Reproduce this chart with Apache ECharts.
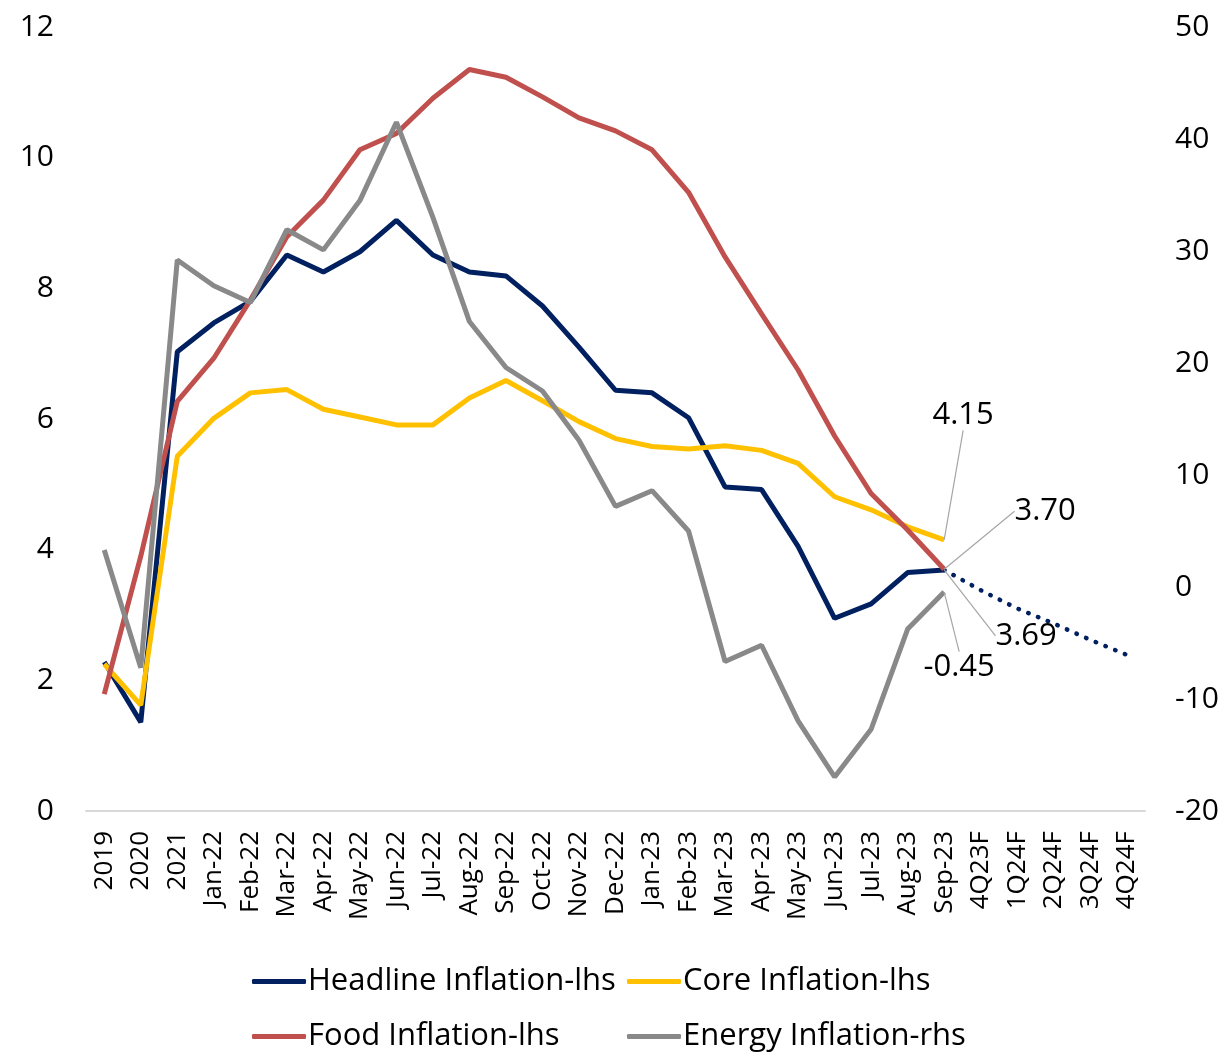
<!DOCTYPE html>
<html>
<head>
<meta charset="utf-8">
<script src="https://cdn.jsdelivr.net/npm/echarts@6/dist/echarts.min.js"></script>
<style>
html,body{margin:0;padding:0;background:#fff;}
#chart{width:1231px;height:1052px;}
</style>
</head>
<body>
<div id="chart"></div>
<script>
const categories = ['2019','2020','2021','Jan-22','Feb-22','Mar-22','Apr-22','May-22','Jun-22','Jul-22','Aug-22','Sep-22','Oct-22','Nov-22','Dec-22','Jan-23','Feb-23','Mar-23','Apr-23','May-23','Jun-23','Jul-23','Aug-23','Sep-23','4Q23F','1Q24F','2Q24F','3Q24F','4Q24F'];
const headline = [2.28,1.36,7.03,7.47,7.80,8.51,8.25,8.56,9.04,8.51,8.25,8.19,7.73,7.10,6.44,6.40,6.02,4.96,4.92,4.05,2.95,3.17,3.65,3.69];
const core = [2.25,1.62,5.43,6.01,6.40,6.45,6.15,6.03,5.91,5.91,6.32,6.59,6.28,5.96,5.70,5.58,5.54,5.59,5.52,5.32,4.81,4.61,4.35,4.15];
const food = [1.79,3.90,6.27,6.93,7.82,8.79,9.35,10.12,10.37,10.91,11.35,11.23,10.93,10.61,10.41,10.12,9.47,8.48,7.61,6.75,5.74,4.86,4.30,3.70];
const energy = [3.3,-7.2,29.2,26.9,25.4,31.9,30.1,34.5,41.5,33.0,23.7,19.6,17.5,13.1,7.2,8.6,5.0,-6.65,-5.2,-11.95,-16.96,-12.7,-3.76,-0.45];
const forecastStart = 23;
const forecast = [3.69,3.38,3.10,2.87,2.62,2.39];
const leftTicks = {min:0, max:12, interval:2};
const rightTicks = {min:-20, max:50, interval:10};
const seriesNames = ['Headline Inflation-lhs','Core Inflation-lhs','Food Inflation-lhs','Energy Inflation-rhs'];

const FONT = 'Open Sans';
const lastIdx = 23;

function withLabel(arr, fmt) {
  return arr.map((v, i) => i === lastIdx ? {value: v, label: {show: true, formatter: fmt}} : v);
}
const forecastData = categories.map((c, i) => (i >= forecastStart && i - forecastStart < forecast.length) ? forecast[i - forecastStart] : null);

const labelBase = {show: false, position: 'inside', color: '#000', fontFamily: FONT, fontSize: 31};
const labelLine = {show: true, lineStyle: {color: '#a6a6a6', width: 1.2}};

function legendAt(name, left, top) {
  return {
    data: [name], left: left, top: top, itemWidth: 54, itemHeight: 5, itemGap: 0, icon: 'roundRect',
    padding: 0,
    textStyle: {fontFamily: FONT, fontSize: 31, color: '#000', padding: [0,0,0,-3]}
  };
}

const chart = echarts.init(document.getElementById('chart'), null, {renderer: 'canvas'});
chart.setOption({
  animation: false,
  backgroundColor: '#fff',
  grid: {left: 86, right: 86, top: 27, bottom: 241, containLabel: false},
  legend: [
    legendAt(seriesNames[0], 252, 966),
    legendAt(seriesNames[1], 627, 966),
    legendAt(seriesNames[2], 252, 1021),
    legendAt(seriesNames[3], 627, 1021)
  ],
  xAxis: {
    type: 'category', data: categories, boundaryGap: true,
    axisLine: {lineStyle: {color: '#d9d9d9', width: 2}},
    axisTick: {show: false},
    axisLabel: {rotate: 90, margin: 20, interval: 0, color: '#000', fontFamily: FONT, fontSize: 26}
  },
  yAxis: [{
    type: 'value', min: leftTicks.min, max: leftTicks.max, interval: leftTicks.interval, position: 'left',
    splitLine: {show: false}, axisLine: {show: false}, axisTick: {show: false},
    axisLabel: {margin: 32, color: '#000', fontFamily: FONT, fontSize: 30}
  }, {
    type: 'value', min: rightTicks.min, max: rightTicks.max, interval: rightTicks.interval, position: 'right',
    splitLine: {show: false}, axisLine: {show: false}, axisTick: {show: false},
    axisLabel: {margin: 30, color: '#000', fontFamily: FONT, fontSize: 30}
  }],
  series: [{
    name: seriesNames[0], type: 'line', yAxisIndex: 0,
    data: withLabel(headline, '3.69'),
    symbol: 'circle', symbolSize: 0.1, showSymbol: true,
    lineStyle: {color: '#002060', width: 5}, itemStyle: {color: '#002060'},
    label: labelBase, labelLine: labelLine, labelLayout: {dx: 82, dy: 66}, z: 2
  }, {
    name: seriesNames[1], type: 'line', yAxisIndex: 0,
    data: withLabel(core, '4.15'),
    symbol: 'circle', symbolSize: 0.1, showSymbol: true,
    lineStyle: {color: '#FFC000', width: 5}, itemStyle: {color: '#FFC000'},
    label: labelBase, labelLine: labelLine, labelLayout: {dx: 19, dy: -125}, z: 3
  }, {
    name: seriesNames[2], type: 'line', yAxisIndex: 0,
    data: withLabel(food, '3.70'),
    symbol: 'circle', symbolSize: 0.1, showSymbol: true,
    lineStyle: {color: '#C0504D', width: 5}, itemStyle: {color: '#C0504D'},
    label: labelBase, labelLine: labelLine, labelLayout: {dx: 101, dy: -58}, z: 4
  }, {
    name: seriesNames[3], type: 'line', yAxisIndex: 1,
    data: withLabel(energy, '-0.45'),
    symbol: 'circle', symbolSize: 0.1, showSymbol: true,
    lineStyle: {color: '#898989', width: 5}, itemStyle: {color: '#898989'},
    label: labelBase, labelLine: labelLine, labelLayout: {dx: 15, dy: 75}, z: 5
  }, {
    name: 'Forecast', type: 'line', yAxisIndex: 0,
    data: forecastData, showSymbol: false, symbol: 'none', connectNulls: false,
    lineStyle: {color: '#002060', width: 4.5, type: [0.5, 10], cap: 'round'}, z: 1
  }]
});
</script>
</body>
</html>
